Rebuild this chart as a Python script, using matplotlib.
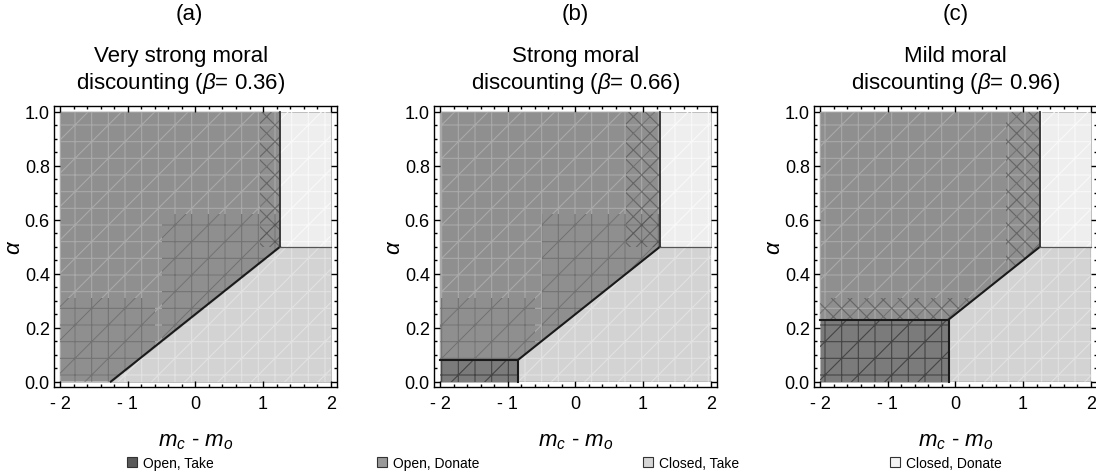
# -*- coding: utf-8 -*-
"""
3 パネルの領域図（Open/Closed × Take/Donate）を out.png に描く。
"""

import matplotlib
matplotlib.use("Agg")
import matplotlib.pyplot as plt
from matplotlib.patches import Polygon, Patch, Rectangle
from matplotlib.ticker import MultipleLocator, FixedLocator, FixedFormatter

plt.rcParams["font.family"] = ["Liberation Sans", "DejaVu Sans"]
plt.rcParams["mathtext.fontset"] = "custom"
plt.rcParams["mathtext.it"] = "Liberation Sans:italic"
plt.rcParams["mathtext.rm"] = "Liberation Sans"
plt.rcParams["hatch.linewidth"] = 0.8

# ---------------------------------------------------------------------
# データ
# ---------------------------------------------------------------------
PANEL_TAGS = ["(a)", "(b)", "(c)"]
TITLE_LINES = ["Very strong moral", "Strong moral", "Mild moral"]
BETAS = [0.36, 0.66, 0.96]

# Open, Take 領域の右端(x)と上端(α)。(a) は面積ゼロ
TAKE_X = [-1.25, -0.85, -0.10]
TAKE_ALPHA = [0.00, 0.08, 0.23]

# Closed 側へ切り替わる点（縦の境界 x と横の境界 α）
SWITCH_X = 1.25
SWITCH_ALPHA = 0.5

X_RANGE = [-2.0, 2.0]
ALPHA_RANGE = [0.0, 1.0]

CATEGORIES = ["Open, Take", "Open, Donate", "Closed, Take", "Closed, Donate"]
CAT_COLORS = ["#7b7b7b", "#8f8f8f", "#d3d3d3", "#eeeeee"]
LEGEND_COLORS = ["#5a5a5a", "#999999", "#d6d6d6", "#f4f4f4"]
MESH_COLORS = ["#454545", "#a9a9a9", "#e2e2e2", "#f9f9f9"]

X_TICKS = [-2, -1, 0, 1, 2]
X_TICK_LABELS = ["- 2", "- 1", "0", "1", "2"]
Y_TICKS = [0.0, 0.2, 0.4, 0.6, 0.8, 1.0]
Y_TICK_LABELS = ["0.0", "0.2", "0.4", "0.6", "0.8", "1.0"]

# 見た目の調整（Mathematica の細分化メッシュが濃く見える帯）
# (x0, x1, a0, a1, hatch)
DARK_ZONES = [
    [(-2.0, -0.6, 0.0, 0.31, "/+"), (-0.5, 1.25, 0.0, 0.62, "/+"),
     (0.95, 1.25, 0.5, 1.0, "xx")],
    [(-2.0, -0.6, 0.0, 0.31, "/+"), (-0.5, 1.25, 0.0, 0.62, "/+"),
     (0.75, 1.25, 0.5, 1.0, "xx")],
    [(-2.0, 0.3, 0.23, 0.31, "xx"), (0.75, 1.25, 0.3, 1.0, "xx")],
]
# タイトル中心（軸幅に対する割合）。(a) だけ左寄り
TITLE_X = [0.449, 0.5, 0.5]
TAG_X = [0.477, 0.5, 0.5]


def region_polygons(tx, ta):
    """4 つの領域の多角形（頂点リスト）を返す。"""
    x0, x1 = X_RANGE
    a0, a1 = ALPHA_RANGE
    open_take = [(x0, a0), (tx, a0), (tx, ta), (x0, ta)]
    open_donate = [(x0, ta), (tx, ta), (SWITCH_X, SWITCH_ALPHA),
                   (SWITCH_X, a1), (x0, a1)]
    closed_take = [(tx, a0), (x1, a0), (x1, SWITCH_ALPHA),
                   (SWITCH_X, SWITCH_ALPHA), (tx, ta)]
    closed_donate = [(SWITCH_X, SWITCH_ALPHA), (x1, SWITCH_ALPHA),
                     (x1, a1), (SWITCH_X, a1)]
    return [open_take, open_donate, closed_take, closed_donate]


def draw_panel(ax, i):
    tx, ta = TAKE_X[i], TAKE_ALPHA[i]
    polys = region_polygons(tx, ta)

    patches = []
    for k, pts in enumerate(polys):
        # 塗り
        p = Polygon(pts, closed=True, facecolor=CAT_COLORS[k],
                    edgecolor="#b5b5b5", linewidth=0.6, zorder=1)
        ax.add_patch(p)
        patches.append(p)
        # RegionPlot のメッシュっぽい線（ハッチで代用）
        ax.add_patch(Polygon(pts, closed=True, facecolor="none",
                             edgecolor=MESH_COLORS[k], linewidth=0,
                             hatch="+/", zorder=2))

    # Open, Donate 内の濃いメッシュ帯
    for (zx0, zx1, za0, za1, h) in DARK_ZONES[i]:
        r = Rectangle((zx0, za0), zx1 - zx0, za1 - za0, facecolor="none",
                      edgecolor="#3c3c3c", linewidth=0, hatch=h, alpha=0.5,
                      zorder=3)
        ax.add_patch(r)
        r.set_clip_path(patches[1])

    # 境界線
    ax.plot([tx, SWITCH_X], [ta, SWITCH_ALPHA], color="#1a1a1a", lw=1.5, zorder=4)
    ax.plot([SWITCH_X, SWITCH_X], [SWITCH_ALPHA, ALPHA_RANGE[1]],
            color="#333333", lw=1.3, zorder=4)
    ax.plot([SWITCH_X, X_RANGE[1]], [SWITCH_ALPHA, SWITCH_ALPHA],
            color="#555555", lw=0.9, zorder=4)
    if ta > 0:
        ax.plot([X_RANGE[0], tx, tx], [ta, ta, ALPHA_RANGE[0]],
                color="#1a1a1a", lw=1.5, zorder=4)

    ax.set_xlim(-2.09, 2.09)
    ax.set_ylim(-0.02, 1.022)

    ax.xaxis.set_major_locator(FixedLocator(X_TICKS))
    ax.xaxis.set_major_formatter(FixedFormatter(X_TICK_LABELS))
    ax.xaxis.set_minor_locator(MultipleLocator(0.2))
    ax.yaxis.set_major_locator(FixedLocator(Y_TICKS))
    ax.yaxis.set_major_formatter(FixedFormatter(Y_TICK_LABELS))
    ax.yaxis.set_minor_locator(MultipleLocator(0.05))
    ax.tick_params(which="both", direction="in", top=True, right=True,
                   labelsize=13, width=1.0)
    ax.tick_params(axis="x", which="both", pad=6)
    ax.tick_params(axis="y", which="both", pad=3)
    ax.tick_params(which="major", length=4)
    ax.tick_params(which="minor", length=2.5)
    for s in ax.spines.values():
        s.set_linewidth(1.0)

    ax.set_xlabel(r"$m_c$ - $m_o$", fontsize=16, labelpad=13)
    ax.set_ylabel(r"$\alpha$", fontsize=16, labelpad=0)

    # タイトル（パネル記号 + 2 行の説明）
    ax.text(TAG_X[i], 1.331, PANEL_TAGS[i], transform=ax.transAxes,
            ha="center", va="center", fontsize=16)
    ax.text(TITLE_X[i], 1.180, TITLE_LINES[i], transform=ax.transAxes,
            ha="center", va="center", fontsize=16)
    ax.text(TITLE_X[i], 1.084, f"discounting ($\\beta$= {BETAS[i]:.2f})",
            transform=ax.transAxes, ha="center", va="center", fontsize=16)


fig = plt.figure(figsize=(10.96, 4.77), dpi=100)
lefts = [0.0493, 0.396, 0.7427]
for i, left in enumerate(lefts):
    ax = fig.add_axes([left, 0.1866, 0.258, 0.589])
    draw_panel(ax, i)

# 凡例（4 つを横に並べる）
legend_x = [0.116, 0.344, 0.587, 0.812]
for k, cat in enumerate(CATEGORIES):
    handle = Patch(facecolor=LEGEND_COLORS[k], edgecolor="#333333", linewidth=0.8)
    fig.legend([handle], [cat], loc="center left",
               bbox_to_anchor=(legend_x[k], 0.028), frameon=False,
               fontsize=10, handlelength=0.7, handleheight=0.7,
               handletextpad=0.45, borderpad=0, borderaxespad=0)

fig.savefig("out.png", dpi=100)
plt.close(fig)
